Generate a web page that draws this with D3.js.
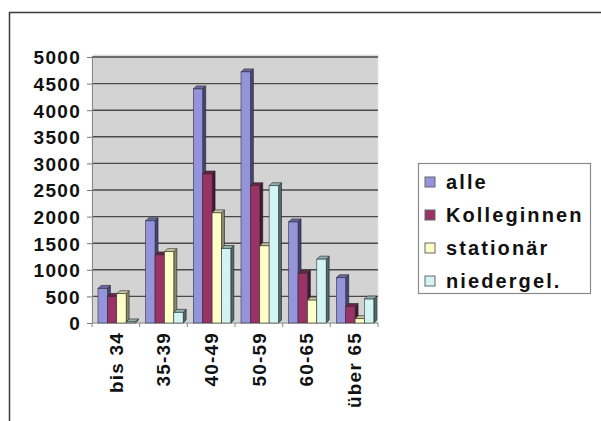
<!DOCTYPE html>
<html>
<head>
<meta charset="utf-8">
<script src="https://cdn.jsdelivr.net/npm/d3@7"></script>
<style>
  html, body { margin: 0; padding: 0; background: #fff; }
  svg { display: block; }
  text { font-family: "Liberation Sans", Arial, sans-serif; fill: #111; }
</style>
</head>
<body>
<svg id="chart" width="601" height="421"></svg>
<script>
// Age groups on the x axis
const categories = ["bis 34", "35-39", "40-49", "50-59", "60-65", "über 65"];
// Series names, in legend order
const seriesNames = ["alle", "Kolleginnen", "stationär", "niedergel."];
// Values per series, one per age group
const alle        = [650, 1920, 4400, 4720, 1900, 850];
const kolleginnen = [500, 1280, 2800, 2580, 930, 310];
const stationaer  = [550, 1340, 2070, 1450, 430, 80];
const niedergel   = [20, 200, 1400, 2580, 1200, 450];
// Y axis ticks
const yTicks = [0, 500, 1000, 1500, 2000, 2500, 3000, 3500, 4000, 4500, 5000];

const seriesValues = [alle, kolleginnen, stationaer, niedergel];
const fronts = ["#9494dc", "#993366", "#ffffc8", "#d2f4f4"];
const sides  = ["#45457a", "#4a1530", "#8a8a66", "#4f6a6a"];
const tops   = ["#6a6aa8", "#6e2248", "#c8c8a0", "#90b0b0"];

const svg = d3.select("#chart");

// Outer frame (top and left edges)
svg.append("path")
  .attr("d", "M9.5,421 L9.5,12.5 L601,12.5")
  .attr("fill", "none").attr("stroke", "#3a3a3a").attr("stroke-width", 1.5);

const plot = { left: 92, right: 378, top: 57, bottom: 323 };

const y = d3.scaleLinear().domain([0, 5000]).range([plot.bottom, plot.top]);
const x0 = d3.scaleBand().domain(categories).range([plot.left, plot.right]);
const x1 = d3.scaleBand().domain(seriesNames).range([6, 43.5]);

// Back wall
svg.append("rect")
  .attr("x", plot.left + 1).attr("y", plot.top - 2)
  .attr("width", plot.right - plot.left - 1).attr("height", plot.bottom - plot.top + 2)
  .attr("fill", "#d3d3d3").attr("stroke", "#e6e6e6").attr("stroke-width", 1);

// Horizontal gridlines
svg.append("g").selectAll("line").data(yTicks.filter(d => d > 0)).join("line")
  .attr("x1", plot.left).attr("x2", plot.right)
  .attr("y1", d => y(d)).attr("y2", d => y(d))
  .attr("stroke", "#4a4a4a").attr("stroke-width", 1.4);

// Y axis
const yAxis = d3.axisLeft(y).tickValues(yTicks).tickFormat(d3.format("d")).tickSize(5).tickPadding(6);
const gy = svg.append("g").attr("transform", `translate(${plot.left},0)`).call(yAxis);
gy.attr("font-family", null).attr("font-size", null);
gy.select(".domain").attr("stroke", "#888").attr("stroke-width", 1.2);
gy.selectAll(".tick line").attr("stroke", "#777");
gy.selectAll(".tick text")
  .attr("font-size", 19).attr("font-weight", "bold").attr("letter-spacing", 1.3)
  .attr("dy", "0.36em").attr("fill", "#111");

// X axis (boundary ticks between categories)
const gx = svg.append("g");
gx.append("line")
  .attr("x1", plot.left).attr("x2", plot.right)
  .attr("y1", plot.bottom).attr("y2", plot.bottom)
  .attr("stroke", "#888").attr("stroke-width", 1.2);
gx.selectAll("line.tk").data(categories.map((c, i) => i).concat([categories.length])).join("line")
  .attr("class", "tk")
  .attr("x1", i => plot.left + i * x0.step()).attr("x2", i => plot.left + i * x0.step())
  .attr("y1", plot.bottom).attr("y2", plot.bottom + 4)
  .attr("stroke", "#888");
gx.selectAll("text").data(categories).join("text")
  .attr("transform", d => `translate(${x0(d) + x0.bandwidth() / 2},${plot.bottom + 9}) rotate(-90)`)
  .attr("text-anchor", "end").attr("dy", "0.36em")
  .attr("font-size", 19).attr("font-weight", "bold").attr("letter-spacing", 1.2)
  .text(d => d);

// 3D columns: side face, top face, then front
const dx = 3, dy = 3;
const bars = [];
categories.forEach((c, ci) => {
  seriesNames.forEach((s, si) => {
    bars.push({ c, s, si, v: seriesValues[si][ci] });
  });
});
const gb = svg.append("g");
bars.forEach(b => {
  const xl = x0(b.c) + x1(b.s);
  const w = x1.bandwidth();
  const yt = y(b.v), yb = y(0);
  const g = gb.append("g");
  g.append("path")
    .attr("d", `M${xl + w},${yb} L${xl + w + dx},${yb - dy} L${xl + w + dx},${yt - dy} L${xl + w},${yt} Z`)
    .attr("fill", sides[b.si]).attr("stroke", "#222").attr("stroke-width", 0.6);
  g.append("path")
    .attr("d", `M${xl},${yt} L${xl + dx},${yt - dy} L${xl + w + dx},${yt - dy} L${xl + w},${yt} Z`)
    .attr("fill", tops[b.si]).attr("stroke", "#222").attr("stroke-width", 0.6);
  g.append("rect")
    .attr("x", xl).attr("y", yt).attr("width", w).attr("height", yb - yt)
    .attr("fill", fronts[b.si]).attr("stroke", "#333").attr("stroke-width", 0.6);
});

// Legend
const lg = svg.append("g");
lg.append("rect")
  .attr("x", 418.5).attr("y", 163.5).attr("width", 172).attr("height", 130)
  .attr("fill", "#fff").attr("stroke", "#8a8a8a").attr("stroke-width", 1.2);
const rowY = d3.scalePoint().domain(seriesNames).range([182, 281]);
seriesNames.forEach((s, i) => {
  lg.append("rect")
    .attr("x", 425).attr("y", rowY(s) - 5).attr("width", 10).attr("height", 10)
    .attr("fill", fronts[i]).attr("stroke", "#666").attr("stroke-width", 1);
  lg.append("text")
    .attr("x", 446).attr("y", rowY(s)).attr("dy", "0.36em")
    .attr("font-size", 20).attr("font-weight", "bold").attr("letter-spacing", 2.1)
    .text(s);
});
</script>
</body>
</html>
